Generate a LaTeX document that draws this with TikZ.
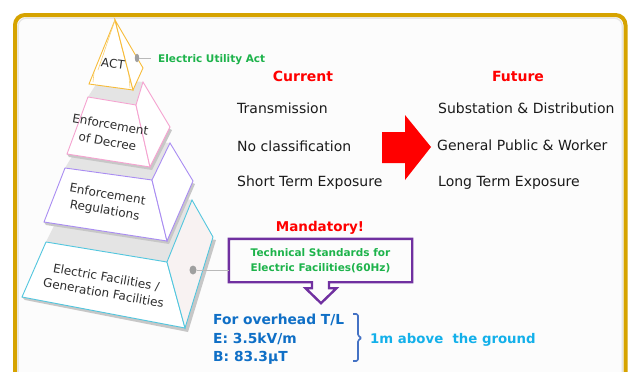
\documentclass[tikz,border=0pt]{standalone}
\usepackage{fontspec}
\setmainfont{DejaVu Sans}
\usetikzlibrary{calc,shapes.geometric}
\definecolor{goldframe}{HTML}{D6A300}
\definecolor{actc}{HTML}{F7BC3A}
\definecolor{pinkc}{HTML}{F5A3D0}
\definecolor{purpc}{HTML}{A98CF2}
\definecolor{cyanc}{HTML}{52C6DE}
\definecolor{greenc}{HTML}{1DB34B}
\definecolor{boxc}{HTML}{7030A0}
\definecolor{bluec}{HTML}{0F6FC6}
\definecolor{bracec}{HTML}{4472C4}
\definecolor{lbluec}{HTML}{13B0EA}
\definecolor{txtc}{HTML}{1A1A1A}
\definecolor{lblc}{HTML}{2E2E2E}
\definecolor{topgray}{HTML}{E4E4E4}
\definecolor{sidec}{HTML}{F8F2F2}
\begin{document}
\begin{tikzpicture}[x=1pt,y=-1pt,
  txt/.style={inner sep=0pt, text=txtc, font=\fontsize{14}{16}\selectfont},
  hdr/.style={inner sep=0pt, text=red, font=\fontsize{14}{16}\selectfont\bfseries},
  lbl/.style={inner sep=0pt, text=lblc, align=center, rotate=-10, font=\fontsize{12}{17}\selectfont},
  grn/.style={inner sep=0pt, text=greenc, font=\fontsize{10.5}{15}\selectfont\bfseries},
  blu/.style={inner sep=0pt, text=bluec, font=\fontsize{13.8}{16}\selectfont\bfseries},
  face/.style={fill=white, line width=0.9pt},
  topf/.style={fill=topgray, draw=none},
  shad/.style={fill=black!22, draw=none},
  dotn/.style={ellipse, fill=gray!75, draw=none, inner sep=0pt},
  conn/.style={draw=gray!55, line width=1pt}
]
\useasboundingbox (0,0) rectangle (630,372);
\fill[white] (0,0) rectangle (630,372);
\begin{scope}
\clip (0,0) rectangle (630,372);
\fill[black!1, rounded corners=10pt] (15,15) rectangle (625.5,400);
\draw[black!10, line width=1.2pt, rounded corners=8pt] (18.2,18.2) rectangle (622.3,400);
\draw[goldframe, line width=4pt, rounded corners=10pt] (15,15) rectangle (625.5,400);
\end{scope}

% ---- layer 4 (cyan)
\fill[shad] (25,300) -- (188,332) -- (216,240) -- (205,238) -- (185,326) -- (22,297) -- cycle;
\fill[topf] (46,242) -- (167,262) -- (192,200) -- (75,183) -- cycle;
\draw[face, draw=cyanc] (46,242) -- (167,262) -- (185,328) -- (22,297) -- cycle;
\draw[face, draw=cyanc, fill=sidec] (167,262) -- (192,200) -- (213,237) -- (185,328) -- cycle;
% ---- layer 3 (purple)
\fill[shad] (46,225) -- (169,244) -- (195,184) -- (190,182) -- (167,240) -- (44,222) -- cycle;
\fill[topf] (65,168) -- (152,180) -- (170,143) -- (85,135) -- cycle;
\draw[face, draw=purpc] (65,168) -- (152,180) -- (167,241) -- (44,222) -- cycle;
\draw[face, draw=purpc] (152,180) -- (170,143) -- (193,181) -- (167,241) -- cycle;
% ---- layer 2 (pink)
\fill[shad] (69,157) -- (152,170) -- (172,130) -- (168,128) -- (150,167) -- (67,154) -- cycle;
\fill[topf] (88,97) -- (136,105) -- (143,82) -- (100,78) -- cycle;
\draw[face, draw=pinkc] (88,97) -- (136,105) -- (150,167) -- (67,154) -- cycle;
\draw[face, draw=pinkc] (136,105) -- (143,82) -- (170,127) -- (150,167) -- cycle;
% ---- layer 1 (ACT)
\draw[face, draw=actc] (115,20) -- (133,90) -- (89,84) -- cycle;
\draw[face, draw=actc] (115,20) -- (143,68) -- (133,90) -- cycle;
\draw[actc!70, line width=0.6pt] (115,20) -- (98,70);
\draw[actc!70, line width=0.6pt] (94,73) -- (93,82);
\draw[actc!70, line width=0.6pt] (129,76) -- (130,88);

% ---- pyramid labels
\node[lbl, rotate=2] (lact) at (113,64) {ACT};
\node[lbl] (ldec) at (109,133) {Enforcement\\of Decree};
\node[lbl, font=\fontsize{12}{16}\selectfont] (lreg) at (106,203) {Enforcement\\Regulations};
\node[lbl, font=\fontsize{12}{16}\selectfont] (lfac) at (105,285) {Electric Facilities /\\Generation Facilities};

% ---- Electric Utility Act callout
\node[dotn, minimum width=4.5pt, minimum height=8.5pt] (dot1) at (137,58) {};
\coordinate (l1end) at (151,58);
\draw[conn] (dot1) -- (l1end);
\node[grn, anchor=base west] (eua) at (158,63) {Electric Utility Act};

% ---- Current / Future
\node[hdr, anchor=base] (cur) at (303,81) {Current};
\node[hdr, anchor=base] (fut) at (518,81) {Future};
\node[txt, anchor=base west] (c1) at (237,113) {Transmission};
\node[txt, anchor=base west] (c2) at (237,151) {No classification};
\node[txt, anchor=base west] (c3) at (237,186) {Short Term Exposure};
\node[txt, anchor=base west] (f1) at (438,113) {Substation \& Distribution};
\node[txt, anchor=base west] (f2) at (437,150) {General Public \& Worker};
\node[txt, anchor=base west] (f3) at (438,186) {Long Term Exposure};
\fill[red] (382,132) -- (405,132) -- (405,115) -- (431,147) -- (405,180) -- (405,163) -- (382,163) -- cycle;

% ---- Mandatory box
\node[hdr, anchor=base, font=\fontsize{13.5}{16}\selectfont\bfseries] (mand) at (320,231) {Mandatory!};
\node[draw=none, minimum width=183pt, minimum height=43pt, inner sep=0pt] (box) at (320.5,260.5) {};
\node[grn, align=center] (boxt) at (320.5,261) {Technical Standards for\\Electric Facilities(60Hz)};
\draw[boxc, line width=2.4pt, line join=miter]
  ($(box.south)+(8.5,0)$) -- (box.south east) -- (box.north east) -- (box.north west) -- (box.south west)
  -- ($(box.south)+(-8.5,0)$) -- ($(box.south)+(-8.5,6)$) -- ($(box.south)+(-15,6)$)
  -- ($(box.south)+(0.5,21)$) -- ($(box.south)+(16,6)$) -- ($(box.south)+(8.5,6)$) -- cycle;
\node[dotn, minimum width=7pt, minimum height=9pt] (dot2) at (193,270) {};
\draw[conn] (dot2) -- (dot2 -| box.west);

% ---- limits
\node[blu, anchor=base west] (b1) at (213,324) {For overhead T/L};
\node[blu, anchor=base west] (b2) at (213,343) {E: 3.5kV/m};
\node[blu, anchor=base west] (b3) at (213,361) {B: 83.3μT};
\draw[bracec, line width=1.6pt, line join=round, rounded corners=1.5pt]
  (353,314) -- (358,314) -- (358,336) -- (362,338) -- (358,340) -- (358,361) -- (353,361);
\node[inner sep=0pt, anchor=base west, text=lbluec, font=\fontsize{13.3}{16}\selectfont\bfseries] (grd) at (370,343) {1m above\ \ the ground};
\end{tikzpicture}
\end{document}
